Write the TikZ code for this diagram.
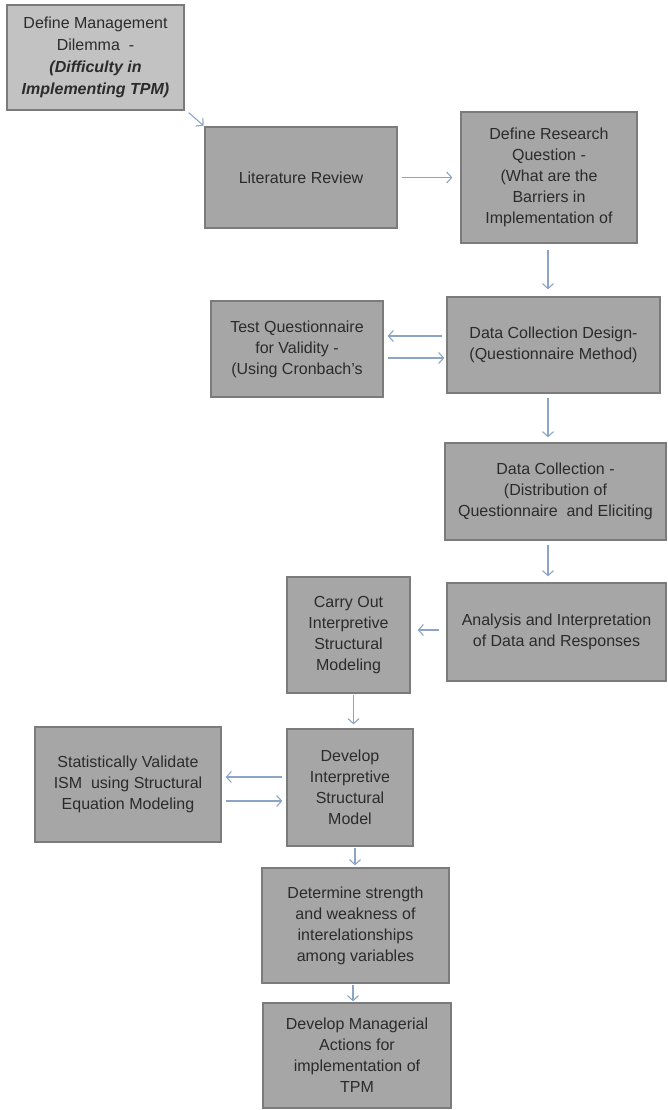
\documentclass[tikz,border=0pt]{standalone}
\usepackage{fontspec}
\setmainfont{Liberation Sans}
\usetikzlibrary{arrows.meta}
\definecolor{boxfill}{HTML}{A6A6A6}
\definecolor{boxfilllight}{HTML}{C2C2C2}
\definecolor{boxline}{HTML}{7B7B7B}
\definecolor{arrowcol}{HTML}{8CA5C6}
\definecolor{txt}{HTML}{2B2B2B}
\begin{document}
\begin{tikzpicture}[x=1pt,y=-1pt,
  box/.style={draw=boxline, line width=1.3pt, fill=boxfill, inner sep=0pt, align=center,
    font=\fontsize{16}{21}\selectfont, text=txt},
  arr/.style={draw=arrowcol, line width=1.1pt, -{Straight Barb[length=5pt,width=11pt]},
    shorten >=4pt, shorten <=4pt}]
\useasboundingbox (0,0) rectangle (667,1110);
\node[box, fill=boxfilllight, minimum width=177pt, minimum height=105pt, font=\fontsize{16}{22}\selectfont] (dilemma) at (95.5,57.5)
  {Define Management\\Dilemma\ \ -\\\textbf{\textit{(Difficulty in}}\\\textbf{\textit{Implementing TPM)}}};
\node[box, minimum width=192pt, minimum height=101pt] (lit) at (301,177.5) {Literature Review};
\node[box, minimum width=176pt, minimum height=131pt] (drq) at (549,177.5)
  {Define Research\\Question -\\(What are the\\Barriers in\\Implementation of};
\node[box, minimum width=172pt, minimum height=96pt] (test) at (297,349)
  {Test Questionnaire\\for Validity -\\(Using Cronbach's};
\node[box, minimum width=213pt, minimum height=96pt] (dcd) at (553.5,345)
  {Data Collection Design-\\(Questionnaire Method)};
\node[box, minimum width=221pt, minimum height=97pt] (dc) at (555.5,491.5)
  {Data Collection -\\(Distribution of\\Questionnaire\ \ and Eliciting};
\node[box, minimum width=219pt, minimum height=98pt] (ana) at (556.5,632)
  {Analysis and Interpretation\\of Data and Responses};
\node[box, minimum width=123pt, minimum height=116pt] (carry) at (348.5,635)
  {Carry Out\\Interpretive\\Structural\\Modeling};
\node[box, minimum width=126pt, minimum height=117pt] (dism) at (350,787.5)
  {Develop\\Interpretive\\Structural\\Model};
\node[box, minimum width=186pt, minimum height=115pt] (stat) at (128,784.5)
  {Statistically Validate\\ISM\ \ using Structural\\Equation Modeling};
\node[box, minimum width=187pt, minimum height=115pt] (det) at (355.5,925.5)
  {Determine strength\\and weakness of\\interelationships\\among variables};
\node[box, minimum width=188pt, minimum height=105pt] (mgr) at (357,1055.5)
  {Develop Managerial\\Actions for\\implementation of\\TPM};
% connectors
\draw[arr, shorten <=0pt, shorten >=1pt] ([xshift=4pt,yshift=-2pt]dilemma.south east) -- (lit.north west);
\draw[arr, shorten >=8pt] (lit.east) -- (lit.east -| drq.west);
\draw[arr, shorten <=6pt, shorten >=7pt] ([xshift=-1pt]drq.south) -- ([xshift=-1pt]drq.south |- dcd.north);
\draw[arr] ([yshift=9pt]dcd.west) -- ([yshift=9pt]dcd.west -| test.east);
\draw[arr, shorten >=2pt] ([yshift=-9pt]test.east) -- ([yshift=-9pt]test.east -| dcd.west);
\draw[arr, shorten >=5pt] ([xshift=-5.5pt]dcd.south) -- ([xshift=-5.5pt]dcd.south |- dc.north);
\draw[arr, shorten >=6pt] ([xshift=-7.5pt]dc.south) -- ([xshift=-7.5pt]dc.south |- ana.north);
\draw[arr, shorten <=7pt, shorten >=7pt] ([yshift=2pt]ana.west) -- ([yshift=2pt]ana.west -| carry.east);
\draw[arr, shorten <=1pt] ([xshift=5pt]carry.south) -- ([xshift=5pt]carry.south |- dism.north);
\draw[arr] ([yshift=10.5pt]dism.west) -- ([yshift=10.5pt]dism.west -| stat.east);
\draw[arr] ([yshift=-16.5pt]stat.east) -- ([yshift=-16.5pt]stat.east -| dism.west);
\draw[arr, shorten >=2pt, shorten <=1pt] ([xshift=5pt]dism.south) -- ([xshift=5pt]dism.south |- det.north);
\draw[arr, shorten >=1pt, shorten <=1pt] ([xshift=-2.5pt]det.south) -- ([xshift=-2.5pt]det.south |- mgr.north);
\end{tikzpicture}
\end{document}
